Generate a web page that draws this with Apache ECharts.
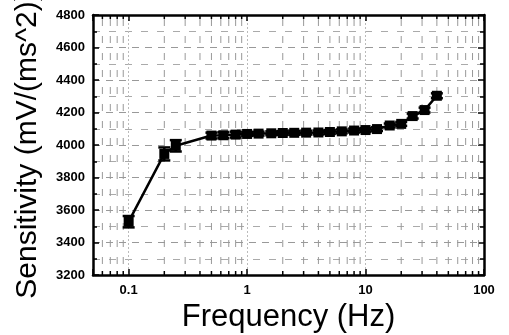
<!DOCTYPE html>
<html>
<head>
<meta charset="utf-8">
<script src="https://cdn.jsdelivr.net/npm/echarts@6/dist/echarts.min.js"></script>
<style>
  html, body { margin: 0; padding: 0; background: #fff; }
  #chart { width: 509px; height: 335px; }
</style>
</head>
<body>
<div id="chart"></div>
<script>
// frequency points (Hz), sensitivity and error bars
const FREQ = [0.1, 0.2, 0.25, 0.5, 0.63, 0.8, 1, 1.25, 1.6, 2, 2.5, 3.15, 4, 5, 6.3, 8, 10, 12.5, 16, 20, 25, 31.5, 40];
const SENS = [3528, 3945, 3995, 4058, 4060, 4064, 4068, 4070, 4072, 4074, 4075, 4076, 4077, 4080, 4084, 4089, 4092, 4098, 4120, 4130, 4178, 4215, 4303];
const ERR = [35, 40, 35, 18, 18, 18, 12, 12, 12, 12, 12, 12, 12, 12, 12, 12, 12, 12, 12, 12, 15, 15, 15];

const X_LABELS = ["0.1", "1", "10", "100"];
const MINOR_X = [0.06, 0.07, 0.08, 0.09, 0.2, 0.3, 0.4, 0.5, 0.6, 0.7, 0.8, 0.9,
  2, 3, 4, 5, 6, 7, 8, 9, 20, 30, 40, 50, 60, 70, 80, 90];
const X_MIN = 0.05, X_MAX = 100;
const Y_MIN = 3200, Y_MAX = 4800, Y_STEP = 200;

const FONT = "Liberation Sans, Arial, sans-serif";

const chart = echarts.init(document.getElementById("chart"), null, { renderer: "canvas" });

const points = FREQ.map((f, i) => [f, SENS[i]]);
const bars = FREQ.map((f, i) => [f, SENS[i] - ERR[i], SENS[i] + ERR[i]]);

const xAxisBase = {
  type: "log",
  logBase: 10,
  min: X_MIN,
  max: X_MAX,
  axisLine: { show: true, lineStyle: { color: "#000", width: 2.5 } },
  axisTick: { show: true, inside: true, length: 6, lineStyle: { color: "#000", width: 1.5 } },
};

chart.setOption({
  animation: false,
  backgroundColor: "#fff",
  grid: { left: 93, right: 25, top: 15, bottom: 60, containLabel: false, outerBoundsMode: "none" },
  xAxis: [
    {
      ...xAxisBase,
      position: "bottom",
      name: "Frequency (Hz)",
      nameLocation: "middle",
      nameGap: 26,
      nameTextStyle: { fontFamily: FONT, fontSize: 31, color: "#000" },
      axisLabel: {
        margin: 9,
        fontFamily: FONT,
        fontSize: 13,
        fontWeight: "bold",
        color: "#000",
        formatter: (v) => (X_LABELS.includes(String(v)) ? String(v) : ""),
      },
      splitLine: { show: true, lineStyle: { color: "#bbb", type: [2, 2], width: 1 } },
    },
    {
      ...xAxisBase,
      position: "top",
      axisLabel: { show: false },
      splitLine: { show: false },
    },
  ],
  yAxis: [
    {
      type: "value",
      min: Y_MIN,
      max: Y_MAX,
      interval: Y_STEP,
      name: "Sensitivity (mV/(ms^2))",
      nameLocation: "middle",
      nameGap: 50,
      nameTextStyle: { fontFamily: FONT, fontSize: 30, color: "#000" },
      axisLine: { show: true, lineStyle: { color: "#000", width: 2.5 } },
      axisTick: { show: true, inside: true, length: 6, lineStyle: { color: "#000", width: 1.5 } },
      minorTick: { show: true, splitNumber: 2, length: 4, lineStyle: { color: "#000", width: 1.5 } },
      axisLabel: {
        margin: 8,
        fontFamily: FONT,
        fontSize: 13,
        fontWeight: "bold",
        color: "#000",
        formatter: (v) => String(v),
      },
      splitLine: { show: true, lineStyle: { color: "#999", type: [7, 6], width: 1 } },
      minorSplitLine: { show: true, lineStyle: { color: "#aaa", type: [7, 9], width: 1 } },
    },
    {
      type: "value",
      position: "right",
      min: Y_MIN,
      max: Y_MAX,
      interval: Y_STEP,
      axisLine: { show: true, lineStyle: { color: "#000", width: 2.5 } },
      axisTick: { show: true, inside: true, length: 6, lineStyle: { color: "#000", width: 1.5 } },
      minorTick: { show: true, splitNumber: 2, length: 4, lineStyle: { color: "#000", width: 1.5 } },
      axisLabel: { show: false },
      splitLine: { show: false },
    },
  ],
  series: [
    {
      // minor decade ticks and grid lines (2..9 of each decade)
      type: "custom",
      xAxisIndex: 0,
      yAxisIndex: 0,
      silent: true,
      z: 1,
      data: MINOR_X.map((v) => [v, Y_MIN]),
      renderItem: (params, api) => {
        const x = api.coord([api.value(0), Y_MIN])[0];
        const cs = params.coordSys;
        const top = cs.y, bottom = cs.y + cs.height;
        return {
          type: "group",
          children: [
            {
              type: "line",
              shape: { x1: x, y1: top + 4, x2: x, y2: bottom - 4 },
              style: { stroke: "#999", lineWidth: 1, lineDash: [7, 10] },
            },
            {
              type: "line",
              shape: { x1: x, y1: bottom, x2: x, y2: bottom - 4 },
              style: { stroke: "#000", lineWidth: 1.5 },
            },
            {
              type: "line",
              shape: { x1: x, y1: top, x2: x, y2: top + 4 },
              style: { stroke: "#000", lineWidth: 1.5 },
            },
          ],
        };
      },
    },
    {
      // error bars
      type: "custom",
      xAxisIndex: 0,
      yAxisIndex: 0,
      z: 4,
      data: bars,
      renderItem: (params, api) => {
        const lo = api.coord([api.value(0), api.value(1)]);
        const hi = api.coord([api.value(0), api.value(2)]);
        const w = 6;
        const style = { stroke: "#000", lineWidth: 2.5 };
        return {
          type: "group",
          children: [
            { type: "line", shape: { x1: lo[0], y1: lo[1], x2: hi[0], y2: hi[1] }, style },
            { type: "line", shape: { x1: lo[0] - w, y1: lo[1], x2: lo[0] + w, y2: lo[1] }, style },
            { type: "line", shape: { x1: hi[0] - w, y1: hi[1], x2: hi[0] + w, y2: hi[1] }, style },
          ],
        };
      },
    },
    {
      type: "line",
      xAxisIndex: 0,
      yAxisIndex: 0,
      z: 5,
      data: points,
      symbol: "rect",
      symbolSize: 10,
      lineStyle: { color: "#000", width: 2.5 },
      itemStyle: { color: "#000" },
    },
  ],
});
</script>
</body>
</html>
